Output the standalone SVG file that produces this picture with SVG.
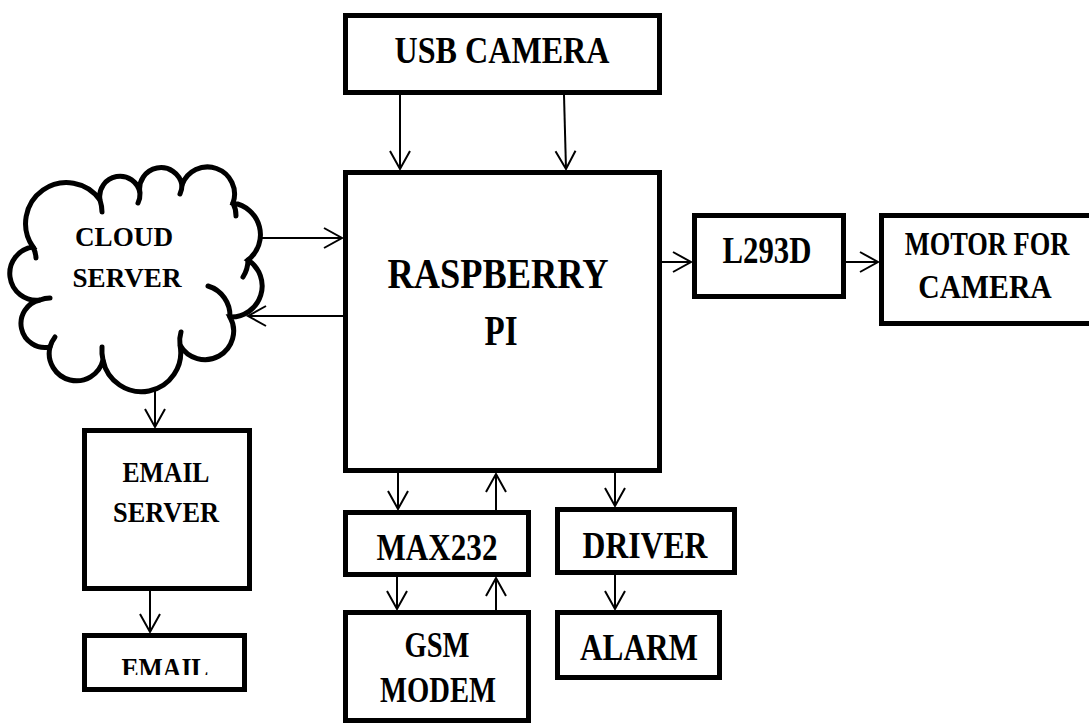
<svg xmlns="http://www.w3.org/2000/svg" width="1089" height="724" viewBox="0 0 1089 724">
<style>
.box{fill:#fff;stroke:#000;stroke-width:5}
.cl{fill:none;stroke:#000;stroke-width:5;stroke-linecap:round}
.c{fill:none;stroke:#000;stroke-width:2}
text{font-family:"Liberation Serif","Times New Roman",serif;font-weight:bold;fill:#000;text-anchor:middle}
</style>
<defs>
<marker id="ah" markerUnits="userSpaceOnUse" markerWidth="24" markerHeight="24" viewBox="-20 -12 22 24" refX="0" refY="0" orient="auto">
<path d="M-18,-10 L0,0 L-18,10" fill="none" stroke="#000" stroke-width="2"/>
</marker>
<clipPath id="emclip"><rect x="84" y="636" width="160" height="39"/></clipPath>
</defs>
<rect width="1089" height="724" fill="#fff"/>
<g id="connectors">
<line class="c" x1="400" y1="95" x2="400" y2="169" marker-end="url(#ah)"/>
<line class="c" x1="564" y1="95" x2="566" y2="169" marker-end="url(#ah)"/>
<line class="c" x1="262" y1="238" x2="342" y2="238" marker-end="url(#ah)"/>
<line class="c" x1="343" y1="316" x2="248" y2="316" marker-end="url(#ah)"/>
<line class="c" x1="662" y1="262" x2="691" y2="262" marker-end="url(#ah)"/>
<line class="c" x1="846" y1="262" x2="878" y2="262" marker-end="url(#ah)"/>
<line class="c" x1="398" y1="473" x2="398" y2="509" marker-end="url(#ah)"/>
<line class="c" x1="496" y1="510" x2="496" y2="474" marker-end="url(#ah)"/>
<line class="c" x1="615" y1="473" x2="615" y2="506" marker-end="url(#ah)"/>
<line class="c" x1="397" y1="577" x2="397" y2="609" marker-end="url(#ah)"/>
<line class="c" x1="496" y1="610" x2="496" y2="578" marker-end="url(#ah)"/>
<line class="c" x1="615" y1="575" x2="615" y2="609" marker-end="url(#ah)"/>
<line class="c" x1="155" y1="388" x2="155" y2="427" marker-end="url(#ah)"/>
<line class="c" x1="150" y1="591" x2="150" y2="632" marker-end="url(#ah)"/>
</g>
<g id="usb-camera">
<rect class="box" x="345.5" y="15.5" width="314" height="77"/>
<text x="502" y="63" font-size="38" textLength="215" lengthAdjust="spacingAndGlyphs">USB CAMERA</text>
</g>
<g id="raspberry-pi">
<rect class="box" x="345.5" y="172.5" width="314" height="298"/>
<text x="498" y="288" font-size="42" textLength="221" lengthAdjust="spacingAndGlyphs">RASPBERRY</text>
<text x="501" y="345" font-size="42" textLength="33" lengthAdjust="spacingAndGlyphs">PI</text>
</g>
<g id="cloud-server">
<path class="cl" style="fill:#fff" d="M40,300 A1,1 0 0 1 33,247 A1,1 0 0 1 100,200 A1,1 0 0 1 140,193 A1,1 0 0 1 182,185 A1,1 0 0 1 233,203 A32,32 0 0 1 248,260 A31,31 0 0 1 230,317 A1,1 0 0 1 180,345 A1,1 0 0 1 103,360 A1,1 0 0 1 50,347 A1,1 0 0 1 40,300 Z"/>
<path class="cl" d="M33,247 A27,27 0 0 1 36,258"/>
<path class="cl" d="M100,200 A41,41 0 0 1 102,212"/>
<path class="cl" d="M140,193 A21,21 0 0 1 138,203"/>
<path class="cl" d="M182,185 A22,22 0 0 1 180,194"/>
<path class="cl" d="M233,203 A28,28 0 0 1 236,216"/>
<path class="cl" d="M248,260 A32,32 0 0 1 243,277"/>
<path class="cl" d="M208,286 A31,31 0 0 1 230,317"/>
<path class="cl" d="M180,345 A30,30 0 0 1 181,332"/>
<path class="cl" d="M103,360 A42,42 0 0 1 102,347"/>
<path class="cl" d="M50,347 A30,30 0 0 1 55,337"/>
<path class="cl" d="M40,300 A26,26 0 0 1 50,298"/>
<text x="124" y="246" font-size="28" textLength="98" lengthAdjust="spacingAndGlyphs">CLOUD</text>
<text x="127" y="287" font-size="28" textLength="109" lengthAdjust="spacingAndGlyphs">SERVER</text>
</g>
<g id="l293d">
<rect class="box" x="694.5" y="215.5" width="149" height="81"/>
<text x="767" y="263" font-size="38" textLength="89" lengthAdjust="spacingAndGlyphs">L293D</text>
</g>
<g id="motor-for-camera">
<path class="box" d="M1089,215.5 H881.5 V323.5 H1089"/>
<text transform="translate(987,255) scale(0.8,1)" x="0" y="0" font-size="33">MOTOR FOR</text>
<text transform="translate(985,298) scale(0.9,1)" x="0" y="0" font-size="33">CAMERA</text>
</g>
<g id="max232">
<rect class="box" x="345.5" y="512.5" width="183" height="62"/>
<text x="437" y="560" font-size="38" textLength="121" lengthAdjust="spacingAndGlyphs">MAX232</text>
</g>
<g id="driver">
<rect class="box" x="557.5" y="509.5" width="177" height="63"/>
<text x="645" y="558" font-size="38" textLength="125" lengthAdjust="spacingAndGlyphs">DRIVER</text>
</g>
<g id="gsm-modem">
<rect class="box" x="345.5" y="612.5" width="183" height="108"/>
<text x="437" y="657" font-size="35" textLength="65" lengthAdjust="spacingAndGlyphs">GSM</text>
<text x="438" y="702" font-size="35" textLength="116" lengthAdjust="spacingAndGlyphs">MODEM</text>
</g>
<g id="alarm">
<rect class="box" x="557.5" y="612.5" width="162" height="65"/>
<text x="639" y="660" font-size="38" textLength="118" lengthAdjust="spacingAndGlyphs">ALARM</text>
</g>
<g id="email-server">
<rect class="box" x="84.5" y="430.5" width="165" height="158"/>
<text x="166" y="482" font-size="30" textLength="87" lengthAdjust="spacingAndGlyphs">EMAIL</text>
<text x="166" y="522" font-size="30" textLength="106" lengthAdjust="spacingAndGlyphs">SERVER</text>
</g>
<g id="email">
<rect class="box" x="84.5" y="635.5" width="160" height="54"/>
<text x="165" y="678" font-size="30" textLength="87" lengthAdjust="spacingAndGlyphs" clip-path="url(#emclip)">EMAIL</text>
</g>
</svg>
